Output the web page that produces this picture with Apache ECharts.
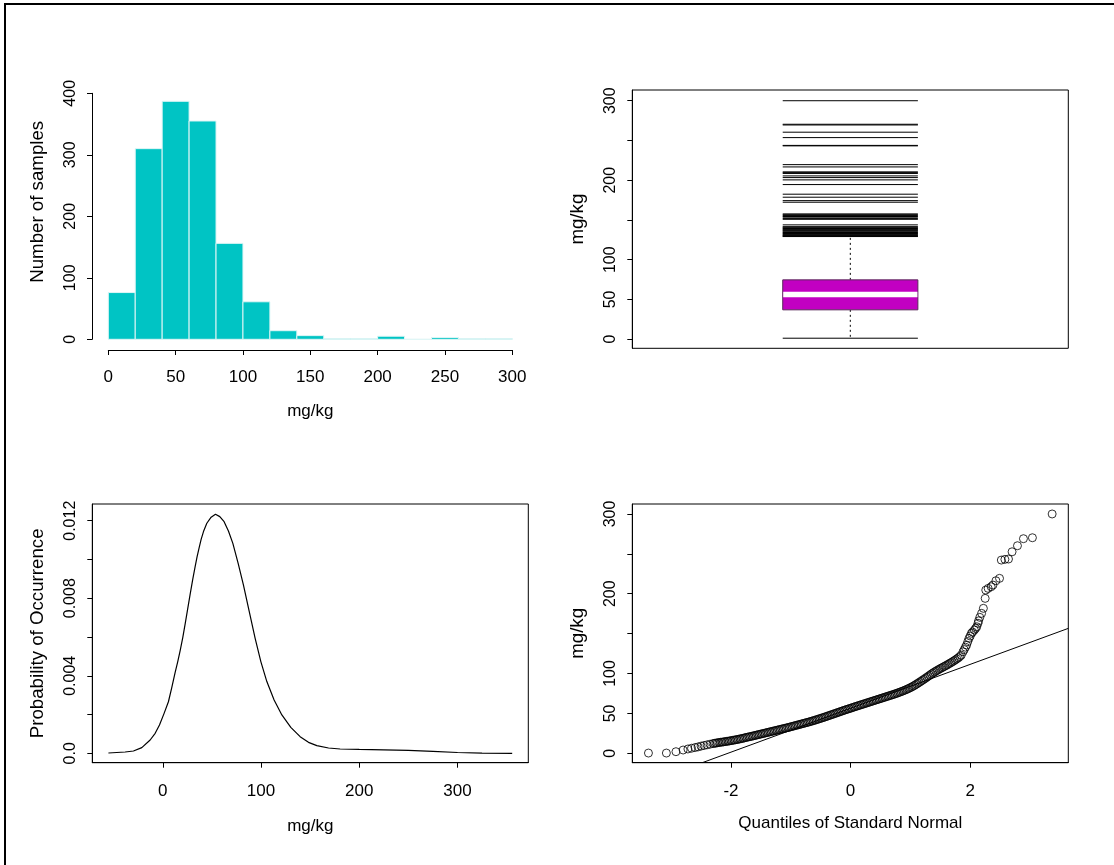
<!DOCTYPE html>
<html><head><meta charset="utf-8">
<script src="https://cdn.jsdelivr.net/npm/echarts@6/dist/echarts.min.js"></script>
<style>html,body{margin:0;padding:0;background:#fff}#c{width:1114px;height:865px}</style>
</head><body><div id="c"></div>
<script>
// ---------- data ----------
// Histogram (bin edges every 20 mg/kg)
const histBinEdges = [0,20,40,60,80,100,120,140,160,180,200,220,240,260,280,300];
const histCounts   = [76,310,387,355,156,61,14,6,1,1,5,0,3,1,1];
const histXTicks = [0,50,100,150,200,250,300];
const histYTicks = [0,100,200,300,400];

// Box plot: [lower whisker, Q1, median, Q3, upper whisker]
const boxStats = [1.2, 36.9, 56.2, 74.6, 129.1];
const boxOutliers = [300, 270.4, 269.5, 260.4, 253.6, 243.8, 243.2, 219.6, 216.7, 210.5, 209.5, 208.5,
  205.4, 203.3, 200.4, 194.5, 182.4, 178.6, 174.3, 172.3, 157.6, 156.6, 155.5, 154.3, 153.5, 151.7, 150.8, 143.8,
  141.5, 140.9, 140.0, 139.2, 138.2, 137.5, 136.5, 135.9, 134.8, 134.2, 133.0, 132.5, 131.5, 130.8, 130.2, 129.5];
const boxYTicks = [0,50,100,150,200,250,300];
const boxYLabels = [0,50,100,200,300];

// Density curve
const densX = [-55.4,-38.4,-29.9,-21.4,-12.9,-7.8,-3.4,1.3,5.7,9.1,12.5,15.2,17.6,20.3,22.7,25.1,27.8,30.5,32.9,34.9,
  37.0,39.0,41.4,44.8,49.2,53.6,58.0,62.4,66.8,71.3,76.7,82.1,87.9,94.0,99.8,105.9,113.3,121.2,130.3,139.8,148.3,
  156.8,168.7,180.5,200,225,250,275,300,325,355.7];
const densY = [0.000015,0.000067,0.000119,0.00029,0.000686,0.00103,0.00146,0.00206,0.00266,0.00339,0.00416,0.00473,
  0.00528,0.00597,0.00666,0.00739,0.0082,0.00899,0.00963,0.01015,0.01061,0.01104,0.01144,0.01187,0.01218,0.01233,
  0.01221,0.01195,0.01147,0.01083,0.0098,0.00868,0.00734,0.00593,0.00473,0.0037,0.00275,0.00198,0.00134,0.000858,
  0.000566,0.000394,0.000273,0.000222,0.0002,0.00018,0.00015,0.0001,0.00004,0.00001,0.0];
const densXTicks = [0,100,200,300];
const densYTicks = [0,0.002,0.004,0.006,0.008,0.010,0.012];
const densYLabels = [0,0.004,0.008,0.012];

// Normal QQ plot: [theoretical quantile, sample value]
const qqPoints = [
  [-3.38,0.3],[-3.08,0.3],[-2.92,2.0],[-2.80,4.1],[-2.72,5.4],[-2.66,6.3],[-2.60,7.2],
  [-2.55,8.0],[-2.50,9.0],[-2.45,9.8],[-2.40,10.6],[-2.35,11.4],
  [-2.300,12.2],[-2.275,12.5],[-2.250,12.8],[-2.225,13.2],[-2.200,13.5],[-2.175,13.8],[-2.150,14.0],[-2.125,14.3],
  [-2.100,14.6],[-2.075,14.9],[-2.050,15.2],[-2.025,15.5],[-2.000,15.8],[-1.975,16.2],[-1.950,16.5],[-1.925,16.9],
  [-1.900,17.2],[-1.875,17.6],[-1.850,18.0],[-1.825,18.4],[-1.800,18.8],[-1.775,19.3],[-1.750,19.8],[-1.725,20.2],
  [-1.700,20.6],[-1.675,21.0],[-1.650,21.4],[-1.625,21.9],[-1.600,22.3],[-1.575,22.8],[-1.550,23.2],[-1.525,23.7],
  [-1.500,24.1],[-1.475,24.6],[-1.450,25.0],[-1.425,25.5],[-1.400,25.9],[-1.375,26.4],[-1.350,26.8],[-1.325,27.3],
  [-1.300,27.7],[-1.275,28.2],[-1.250,28.6],[-1.225,29.1],[-1.200,29.5],[-1.175,30.0],[-1.150,30.4],[-1.125,30.9],
  [-1.100,31.3],[-1.075,31.8],[-1.050,32.2],[-1.025,32.7],[-1.000,33.2],[-0.975,33.7],[-0.950,34.2],[-0.925,34.7],
  [-0.900,35.2],[-0.875,35.7],[-0.850,36.2],[-0.825,36.7],[-0.800,37.2],[-0.775,37.7],[-0.750,38.2],[-0.725,38.7],
  [-0.700,39.2],[-0.675,39.7],[-0.650,40.3],[-0.625,40.8],[-0.600,41.4],[-0.575,42.0],[-0.550,42.6],[-0.525,43.2],
  [-0.500,43.8],[-0.475,44.4],[-0.450,45.0],[-0.425,45.6],[-0.400,46.3],[-0.375,46.9],[-0.350,47.6],[-0.325,48.2],
  [-0.300,48.9],[-0.275,49.5],[-0.250,50.2],[-0.225,50.8],[-0.200,51.5],[-0.175,52.1],[-0.150,52.8],[-0.125,53.4],
  [-0.100,54.1],[-0.075,54.7],[-0.050,55.3],[-0.025,55.9],[0.000,56.5],[0.025,57.1],[0.050,57.8],[0.075,58.4],
  [0.100,59.0],[0.125,59.6],[0.150,60.2],[0.175,60.8],[0.200,61.4],[0.225,62.0],[0.250,62.6],[0.275,63.2],
  [0.300,63.8],[0.325,64.4],[0.350,65.0],[0.375,65.6],[0.400,66.2],[0.425,66.8],[0.450,67.4],[0.475,68.0],
  [0.500,68.6],[0.525,69.2],[0.550,69.8],[0.575,70.4],[0.600,71.0],[0.625,71.6],[0.650,72.2],[0.675,72.8],
  [0.700,73.4],[0.725,74.0],[0.750,74.7],[0.775,75.3],[0.800,76.0],[0.825,76.7],[0.850,77.4],[0.875,78.1],
  [0.900,78.9],[0.925,79.7],[0.950,80.5],[0.975,81.4],[1.000,82.3],[1.025,83.3],[1.050,84.3],[1.075,85.4],
  [1.100,86.6],[1.125,87.8],[1.150,89.0],[1.175,90.2],[1.200,91.5],[1.225,92.7],[1.250,94.0],[1.275,95.3],
  [1.300,96.6],[1.325,98.0],[1.350,99.4],[1.375,100.6],[1.400,101.8],[1.425,102.9],[1.450,104.0],[1.475,105.1],
  [1.500,106.2],[1.525,107.2],[1.550,108.2],[1.575,109.2],[1.600,110.2],[1.625,111.3],[1.650,112.4],[1.675,113.5],
  [1.700,114.6],[1.725,115.8],[1.750,117.0],[1.775,118.3],[1.800,119.6],[1.825,121.2],[1.850,123.0],
  [1.88,127.3],[1.90,130.0],[1.92,133.0],[1.94,135.7],[1.96,140.0],[1.98,144.1],[2.00,147.0],[2.02,150.4],[2.04,152.0],
  [2.07,154.5],[2.09,156.5],[2.11,158.6],[2.13,163.0],[2.14,166.0],[2.16,170.4],[2.19,175.4],[2.22,181.7],[2.25,194.2],
  [2.26,204.6],[2.30,206.7],[2.35,208.8],[2.38,210.9],[2.43,216.3],[2.49,219.3],[2.52,242.2],[2.58,243.1],[2.64,243.5],
  [2.70,252.6],[2.79,260.2],[2.89,269.0],[3.04,270.2],[3.37,300.0]
];
const qqLineX = [-2.48, 3.64];
const qqLineY = [-11.8, 156.6];
const qqXTicks = [-2,0,2];
const qqYTicks = [0,50,100,150,200,250,300];
const qqYLabels = [0,50,100,200,300];

// ---------- styling helpers ----------
const FONT = 'Liberation Sans, Arial, Helvetica, sans-serif';
function axis(o) {
  return {
    type: 'value', gridIndex: o.grid, min: o.min, max: o.max, show: o.show !== false,
    offset: o.offset || 0,
    axisLine: { show: true, onZero: false, lineStyle: { color: '#000', width: 1 } },
    axisTick: { show: true, inside: false, length: 5, lineStyle: { color: '#000', width: 1 }, customValues: o.ticks },
    axisLabel: { show: true, customValues: o.labels || o.ticks, color: '#000', fontFamily: FONT,
      fontSize: o.vertical ? 16 : 17, rotate: o.vertical ? 90 : 0, margin: o.margin,
      formatter: o.formatter || (v => String(v)) },
    splitLine: { show: false },
    name: o.name || '', nameLocation: 'middle', nameGap: o.nameGap,
    nameTextStyle: { color: '#000', fontFamily: FONT, fontSize: o.vertical ? 18.7 : 17, padding: o.namePad || 0 }
  };
}

const chart = echarts.init(document.getElementById('c'), null, { renderer: 'canvas' });
const option = {
  animation: false,
  backgroundColor: '#fff',
  graphic: [{ type: 'rect', shape: { x: 5, y: 4, width: 1300, height: 1000 },
    style: { fill: 'none', stroke: '#000', lineWidth: 2 }, silent: true }],
  grid: [
    { left: 108.3, top: 93.3, width: 404, height: 246 },
    { left: 632.3, top: 90, width: 436, height: 258.3, show: true, borderColor: '#000', borderWidth: 1, backgroundColor: 'transparent' },
    { left: 92.3, top: 504, width: 436, height: 258.7, show: true, borderColor: '#000', borderWidth: 1, backgroundColor: 'transparent' },
    { left: 632.3, top: 504, width: 436, height: 258.7, show: true, borderColor: '#000', borderWidth: 1, backgroundColor: 'transparent' }
  ],
  xAxis: [
    axis({ grid: 0, min: 0, max: 300, ticks: histXTicks, offset: 10.7, margin: 18.5, name: 'mg/kg', nameGap: 53 }),
    axis({ grid: 1, min: 0.5, max: 1.5, ticks: [], show: false }),
    axis({ grid: 2, min: -71.8, max: 372.1, ticks: densXTicks, margin: 20.5, name: 'mg/kg', nameGap: 55 }),
    axis({ grid: 3, min: -3.65, max: 3.64, ticks: qqXTicks, margin: 20.5, name: 'Quantiles of Standard Normal', nameGap: 52 })
  ],
  yAxis: [
    axis({ grid: 0, min: 0, max: 400, ticks: histYTicks, offset: 16.3, vertical: true, margin: 13.5, name: 'Number of samples', nameGap: 45, namePad: [0, 0, 0, 29] }),
    axis({ grid: 1, min: -11.5, max: 313.5, ticks: boxYTicks, labels: boxYLabels, vertical: true, margin: 13.5, name: 'mg/kg', nameGap: 45 }),
    axis({ grid: 2, min: -0.000485, max: 0.012862, ticks: densYTicks, labels: densYLabels, vertical: true, margin: 13.5,
      name: 'Probability of Occurrence', nameGap: 45, formatter: v => (Math.abs(v) < 1e-9 ? '0.0' : v.toFixed(3)) }),
    axis({ grid: 3, min: -11.8, max: 312.5, ticks: qqYTicks, labels: qqYLabels, vertical: true, margin: 13.5, name: 'mg/kg', nameGap: 45 })
  ],
  series: [
    { // histogram bars
      type: 'custom', xAxisIndex: 0, yAxisIndex: 0, clip: false,
      data: histCounts.map((c, i) => [histBinEdges[i], histBinEdges[i + 1], c]),
      renderItem: function (params, api) {
        const p0 = api.coord([api.value(0), api.value(2)]);
        const p1 = api.coord([api.value(1), 0]);
        return { type: 'rect', shape: { x: p0[0], y: p0[1], width: p1[0] - p0[0], height: p1[1] - p0[1] },
          style: { fill: '#00C4C4', stroke: '#dff6f6', lineWidth: 1 } };
      }
    },
    { // box
      type: 'custom', xAxisIndex: 1, yAxisIndex: 1,
      data: [[1].concat(boxStats)],
      renderItem: function (params, api) {
        const hw = 0.155, cx = api.value(0);
        const lo = api.value(1), q1 = api.value(2), med = api.value(3), q3 = api.value(4), hi = api.value(5);
        const L = api.coord([cx - hw, 0])[0], R = api.coord([cx + hw, 0])[0], C = api.coord([cx, 0])[0];
        const y = v => api.coord([cx, v])[1];
        return { type: 'group', children: [
          { type: 'line', shape: { x1: C, y1: y(q3), x2: C, y2: y(hi) }, style: { stroke: '#000', lineWidth: 1, lineDash: [2, 3] } },
          { type: 'line', shape: { x1: C, y1: y(q1), x2: C, y2: y(lo) }, style: { stroke: '#000', lineWidth: 1, lineDash: [2, 3] } },
          { type: 'line', shape: { x1: L, y1: y(hi), x2: R, y2: y(hi) }, style: { stroke: '#000', lineWidth: 1 } },
          { type: 'line', shape: { x1: L, y1: y(lo), x2: R, y2: y(lo) }, style: { stroke: '#000', lineWidth: 1 } },
          { type: 'rect', shape: { x: L, y: y(q3), width: R - L, height: y(q1) - y(q3) }, style: { fill: '#C200C2', stroke: '#5a2a5a', lineWidth: 1 } },
          { type: 'line', shape: { x1: L + 0.5, y1: y(med), x2: R - 0.5, y2: y(med) }, style: { stroke: '#fff', lineWidth: 5.3 } }
        ] };
      }
    },
    { // box outliers drawn as lines
      type: 'custom', xAxisIndex: 1, yAxisIndex: 1,
      data: boxOutliers.map(v => [1, v]),
      renderItem: function (params, api) {
        const hw = 0.155;
        const a = api.coord([api.value(0) - hw, api.value(1)]);
        const b = api.coord([api.value(0) + hw, api.value(1)]);
        return { type: 'line', shape: { x1: a[0], y1: a[1], x2: b[0], y2: b[1] }, style: { stroke: '#000', lineWidth: 1 } };
      }
    },
    { // density
      type: 'line', xAxisIndex: 2, yAxisIndex: 2, showSymbol: false, smooth: false,
      data: densX.map((x, i) => [x, densY[i]]),
      lineStyle: { color: '#000', width: 1.2 }
    },
    { // qq points
      type: 'scatter', xAxisIndex: 3, yAxisIndex: 3, symbol: 'circle', symbolSize: 8,
      data: qqPoints,
      itemStyle: { color: 'rgba(0,0,0,0)', borderColor: '#000', borderWidth: 1 }
    },
    { // qq line
      type: 'line', xAxisIndex: 3, yAxisIndex: 3, showSymbol: false,
      data: qqLineX.map((x, i) => [x, qqLineY[i]]),
      lineStyle: { color: '#000', width: 1 }
    }
  ]
};
chart.setOption(option);
</script></body></html>
